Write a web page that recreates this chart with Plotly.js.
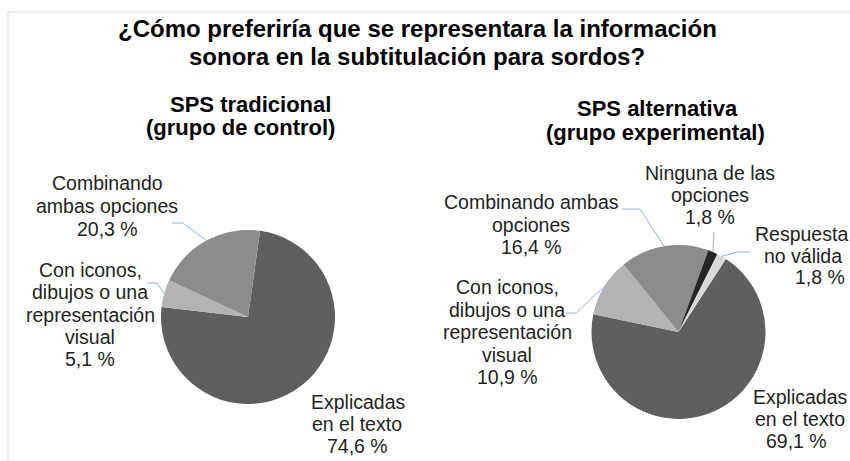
<!DOCTYPE html>
<html><head><meta charset="utf-8">
<script src="https://cdn.plot.ly/plotly-3.0.1.min.js"></script>
<style>html,body{margin:0;padding:0;background:#fff}#chart{width:850px;height:461px}</style>
</head><body><div id="chart"></div>
<script>
// ---- data ----
const titleLines = ["¿Cómo preferiría que se representara la información", "sonora en la subtitulación para sordos?"];
const controlTitle = ["SPS tradicional", "(grupo de control)"];
const controlCategories = ["Explicadas en el texto", "Con iconos, dibujos o una representación visual", "Combinando ambas opciones"];
const controlValues = [74.6, 5.1, 20.3];
const controlLabelLines = [["Explicadas", "en el texto"], ["Con iconos,", "dibujos o una", "representación", "visual"], ["Combinando", "ambas opciones"]];
const expTitle = ["SPS alternativa", "(grupo experimental)"];
const expCategories = ["Explicadas en el texto", "Con iconos, dibujos o una representación visual", "Combinando ambas opciones", "Ninguna de las opciones", "Respuesta no válida"];
const expValues = [69.1, 10.9, 16.4, 1.8, 1.8];
const expLabelLines = [["Explicadas", "en el texto"], ["Con iconos,", "dibujos o una", "representación", "visual"], ["Combinando ambas", "opciones"], ["Ninguna de las", "opciones"], ["Respuesta", "no válida"]];

// ---- layout constants ----
const W = 850, H = 461;
const FONT = "Liberation Sans, Arial, sans-serif";
const LEADER = "#8db4e2";
const px = (x) => x / W, py = (y) => 1 - y / H;
const fmt = (v) => v.toFixed(1).replace(".", ",") + " %";

const pies = [
  {
    cats: controlCategories, vals: controlValues, lines: controlLabelLines, title: controlTitle,
    cx: 248, cy: 317, r: 87, rotation: 8,
    colors: ["#5f5f5f", "#b3b3b3", "#8c8c8c"],
    titlePos: [[250, 105], [240, 128]],
    labelPos: [
      [[358, 402], [357, 424], [357, 446]],
      [[90, 270], [90, 292], [90, 315], [90, 337], [90, 359]],
      [[107, 183], [107, 206], [107, 229]]
    ],
    leaders: [null, [[157, 283], [147, 283]], [[183, 223], [172, 223]]]
  },
  {
    cats: expCategories, vals: expValues, lines: expLabelLines, title: expTitle,
    cx: 678.5, cy: 332, r: 87, rotation: 33,
    colors: ["#5f5f5f", "#b3b3b3", "#8c8c8c", "#262626", "#d9d9d9"],
    titlePos: [[657, 108], [655, 132]],
    labelPos: [
      [[800, 397], [800, 419], [796, 441]],
      [[507, 287], [507, 310], [507, 332], [507, 355], [507, 377]],
      [[531, 202], [531, 225], [531, 247]],
      [[710, 173], [710, 195], [710, 217]],
      [[801, 234], [803, 256], [820, 277]]
    ],
    leaders: [null, [[576, 313], [566, 313]], [[640, 209], [622, 209]], [[714, 232]], [[737, 252], [750, 252]]]
  }
];

const data = [];
const annotations = [];
const shapes = [];

// frame
shapes.push({type: "line", xref: "paper", yref: "paper", x0: px(8), x1: px(850), y0: py(12), y1: py(12), line: {color: "#d9d9d9", width: 1}});
shapes.push({type: "line", xref: "paper", yref: "paper", x0: px(8), x1: px(8), y0: py(12), y1: py(461), line: {color: "#d9d9d9", width: 1}});

// main title
const titleY = [28.5, 56.5];
titleLines.forEach((t, i) => annotations.push({
  text: "<b>" + t + "</b>", x: px(417), y: py(titleY[i]), xref: "paper", yref: "paper",
  xanchor: "center", yanchor: "middle", showarrow: false,
  font: {family: FONT, size: 24, color: "#000"}
}));

pies.forEach((p) => {
  data.push({
    type: "pie", labels: p.cats, values: p.vals, sort: false, direction: "clockwise",
    rotation: p.rotation, textinfo: "none", hoverinfo: "label+percent",
    marker: {colors: p.colors, line: {width: 0}},
    domain: {x: [px(p.cx - p.r), px(p.cx + p.r)], y: [py(p.cy + p.r), py(p.cy - p.r)]},
    showlegend: false
  });
  p.title.forEach((t, i) => annotations.push({
    text: "<b>" + t + "</b>", x: px(p.titlePos[i][0]), y: py(p.titlePos[i][1]), xref: "paper", yref: "paper",
    xanchor: "center", yanchor: "middle", showarrow: false,
    font: {family: FONT, size: 22, color: "#000"}
  }));
  const total = p.vals.reduce((a, b) => a + b, 0);
  let cum = 0;
  p.vals.forEach((v, k) => {
    const mid = p.rotation + 360 * (cum + v / 2) / total;
    cum += v;
    const a = mid * Math.PI / 180;
    const ex = p.cx + p.r * Math.sin(a), ey = p.cy - p.r * Math.cos(a);
    const textLines = p.lines[k].concat([fmt(v)]);
    textLines.forEach((t, i) => annotations.push({
      text: t, x: px(p.labelPos[k][i][0]), y: py(p.labelPos[k][i][1]), xref: "paper", yref: "paper",
      xanchor: "center", yanchor: "middle", showarrow: false,
      font: {family: FONT, size: 19.5, color: "#1f1f1f"}
    }));
    if (p.leaders[k]) {
      let path = "M " + px(ex) + "," + py(ey);
      p.leaders[k].forEach((pt) => { path += " L " + px(pt[0]) + "," + py(pt[1]); });
      shapes.push({type: "path", xref: "paper", yref: "paper", path: path, line: {color: LEADER, width: 1}});
    }
  });
});

const layout = {
  width: W, height: H, margin: {l: 0, r: 0, t: 0, b: 0},
  paper_bgcolor: "#fff", plot_bgcolor: "#fff",
  showlegend: false, annotations: annotations, shapes: shapes
};
Plotly.newPlot("chart", data, layout, {displayModeBar: false, staticPlot: true});
</script>
</body></html>
